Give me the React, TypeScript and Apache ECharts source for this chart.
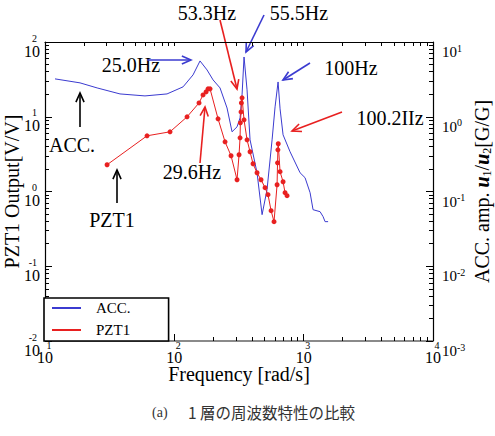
import React, { useEffect, useRef } from 'react';
import * as echarts from 'echarts';

// ACC. (right axis, amplitude ratio u1/u2 [G/G]) vs frequency [rad/s]
const accFreq = [11.95, 18.65, 25.3, 38.0, 59.3, 87.8, 116.8, 139.5, 158, 179, 199.3, 225.6, 255.6, 279.4, 305.4, 322.2, 333.9, 345.9, 365, 385, 436, 477, 521, 570, 601, 634, 657, 693, 785, 938, 1025, 1121, 1182, 1339, 1413, 1464, 1545];
const accAmp = [3.21, 2.84, 2.43, 2.02, 1.9, 2.02, 2.51, 3.63, 5.58, 4.23, 3.11, 2.43, 1.31, 0.629, 0.733, 0.967, 1.96, 6.3, 2.29, 0.491, 0.178, 0.049, 0.106, 0.491, 1.356, 2.92, 1.275, 0.573, 0.34, 0.178, 0.153, 0.0964, 0.0571, 0.0537, 0.0461, 0.0395, 0.0395];

// PZT1 (left axis, output [V/V]) vs frequency [rad/s]
const pztFreq = [30.2, 61.5, 92.6, 125.4, 155.2, 166.7, 175.9, 182.2, 188.9, 217.8, 246.7, 274.5, 305.4, 316.5, 322.2, 324, 328, 330, 333.9, 345.9, 365, 385, 406, 436, 468, 503, 530, 560, 590, 623, 628, 632, 636, 657, 693, 718, 744];
const pztAmp = [2.28, 5.56, 6.29, 9.97, 15.3, 19.6, 21.5, 23.6, 23.6, 9.38, 4.62, 3.01, 1.437, 3.1, 5.23, 8.29, 11.6, 15.3, 17.9, 9.09, 4.91, 3.4, 2.35, 1.78, 1.437, 1.124, 0.906, 0.554, 0.395, 1.23, 2.42, 3.61, 4.35, 1.84, 1.35, 0.964, 0.879];

const seriesNames = ['ACC.', 'PZT1'];
const xTitle = 'Frequency [rad/s]';
const yLeftTitle = 'PZT1 Output[V/V]';
const caption = ['(a)', '1 層の周波数特性の比較'];

const serif = "'Liberation Serif', 'DejaVu Serif', serif";
const BLUE = '#3b3bd0';
const RED = '#e82020';

function minors(loExp: number, hiExp: number): number[] {
  const out: number[] = [];
  for (let e = loExp; e < hiExp; e++) {
    for (let m = 2; m <= 9; m++) out.push(+(m * Math.pow(10, e)).toPrecision(3));
  }
  return out;
}
function majors(loExp: number, hiExp: number): number[] {
  const out: number[] = [];
  for (let e = loExp; e <= hiExp; e++) out.push(+Math.pow(10, e).toPrecision(3));
  return out;
}

function arrow(x1: number, y1: number, x2: number, y2: number, color: string) {
  const ang = Math.atan2(y2 - y1, x2 - x1);
  const L = 10, a = 0.42;
  const p1 = [x2 - L * Math.cos(ang - a), y2 - L * Math.sin(ang - a)];
  const p2 = [x2 - L * Math.cos(ang + a), y2 - L * Math.sin(ang + a)];
  return [
    { type: 'line', silent: true, shape: { x1, y1, x2, y2 }, style: { stroke: color, lineWidth: 1.6 } },
    { type: 'polyline', silent: true, shape: { points: [p1, [x2, y2], p2] }, style: { stroke: color, lineWidth: 1.6, fill: 'none' } },
  ];
}

function label(text: string, cx: number, cy: number, color = '#000', size = 20) {
  return {
    type: 'text', silent: true, x: cx, y: cy,
    style: { text, fill: color, font: `${size}px ${serif}`, align: 'center', verticalAlign: 'middle' },
  };
}

export default function App() {
  const ref = useRef<HTMLDivElement>(null);
  useEffect(() => {
    const chart = echarts.init(ref.current!, null, { renderer: 'svg' });
    const exp = (v: number) => Math.round(Math.log10(v));
    const tickCommon = { inside: true, lineStyle: { color: '#000', width: 1 } };

    const option: any = {
      animation: false,
      backgroundColor: '#fff',
      grid: { left: 45, right: 62, top: 42, bottom: 95, outerBoundsMode: 'none', containLabel: false },
      legend: {
        left: 44, top: 298, orient: 'vertical', icon: 'rect',
        itemWidth: 29, itemHeight: 2, itemGap: 4,
        borderColor: '#000', borderWidth: 1.6, backgroundColor: '#fff',
        padding: [1, 38, 2, 8],
        textStyle: { fontFamily: serif, fontSize: 15, color: '#000', lineHeight: 18, padding: [0, 0, 0, 10] },
        data: seriesNames,
      },
      xAxis: [
        {
          type: 'log', logBase: 10, min: 10, max: 10000, position: 'bottom',
          name: xTitle, nameLocation: 'middle', nameGap: 23, nameMoveOverlap: false,
          nameTextStyle: { fontFamily: serif, fontSize: 20, color: '#000', verticalAlign: 'top', lineHeight: 20 },
          axisLine: { show: true, onZero: false, lineStyle: { color: '#8a8a8a', width: 2 } },
          axisTick: { ...tickCommon, length: 7 },
          axisLabel: {
            margin: 0, color: '#000', fontFamily: serif, showMinLabel: true, showMaxLabel: true,
            formatter: (v: number) => `{s|${exp(v)}}\n{b|10}`,
            rich: {
              s: { fontFamily: serif, fontSize: 10, lineHeight: 9, padding: [0, 0, 0, 8] },
              b: { fontFamily: serif, fontSize: 16, lineHeight: 14 },
            },
          },
          splitLine: { show: false },
        },
        {
          type: 'log', logBase: 10, min: 10, max: 10000, position: 'bottom',
          axisLine: { show: false, onZero: false },
          axisTick: { ...tickCommon, length: 4, customValues: minors(1, 4) },
          axisLabel: { show: false },
          splitLine: { show: false },
        },
        {
          type: 'log', logBase: 10, min: 10, max: 10000, position: 'top',
          axisLine: { show: true, onZero: false, lineStyle: { color: '#000', width: 1.2 } },
          axisTick: { ...tickCommon, length: 4, customValues: [...majors(1, 4), ...minors(1, 4)] },
          axisLabel: { show: false },
          splitLine: { show: false },
        },
      ],
      yAxis: [
        {
          type: 'log', logBase: 10, min: 0.01, max: 100, position: 'left',
          name: yLeftTitle, nameLocation: 'middle', nameGap: 23, nameRotate: 90, nameMoveOverlap: false,
          nameTextStyle: { fontFamily: serif, fontSize: 20, color: '#000' },
          axisLine: { show: true, onZero: false, lineStyle: { color: '#000', width: 1.2 } },
          axisTick: { ...tickCommon, length: 7 },
          axisLabel: {
            margin: 5, color: '#000', showMinLabel: true, showMaxLabel: true, padding: [8, 0, 0, 0],
            formatter: (v: number) => `{s|${exp(v)}}\n{b|10}`,
            rich: {
              s: { fontFamily: serif, fontSize: 10, lineHeight: 10, padding: [0, 3, 0, 0] },
              b: { fontFamily: serif, fontSize: 16, lineHeight: 16 },
            },
          },
          splitLine: { show: false },
        },
        {
          type: 'log', logBase: 10, min: 0.001, max: 10, position: 'right',
          name: 'ACC. amp. {i|u}{d|1}/{i|u}{d|2}[G/G]', nameLocation: 'middle', nameGap: 38, nameRotate: 90, nameMoveOverlap: false,
          nameTextStyle: {
            fontFamily: serif, fontSize: 20, color: '#000',
            rich: {
              i: { fontFamily: serif, fontSize: 20, fontStyle: 'italic', fontWeight: 'bold', lineHeight: 22 },
              d: { fontFamily: serif, fontSize: 12, lineHeight: 12, verticalAlign: 'bottom' },
            },
          },
          axisLine: { show: true, onZero: false, lineStyle: { color: '#000', width: 1.2 } },
          axisTick: { ...tickCommon, length: 7 },
          axisLabel: {
            margin: 9, color: '#000', showMinLabel: true, showMaxLabel: true, padding: [20, 0, 0, 0],
            formatter: (v: number) => `{b|10}{s|${exp(v)}}`,
            rich: {
              b: { fontFamily: serif, fontSize: 15, lineHeight: 18 },
              s: { fontFamily: serif, fontSize: 10, lineHeight: 10, verticalAlign: 'top' },
            },
          },
          splitLine: { show: false },
        },
        {
          type: 'log', logBase: 10, min: 0.01, max: 100, position: 'left',
          axisLine: { show: false, onZero: false },
          axisTick: { ...tickCommon, length: 4, customValues: minors(-2, 2) },
          axisLabel: { show: false },
          splitLine: { show: false },
        },
        {
          type: 'log', logBase: 10, min: 0.001, max: 10, position: 'right',
          axisLine: { show: false, onZero: false },
          axisTick: { ...tickCommon, length: 4, customValues: minors(-3, 1) },
          axisLabel: { show: false },
          splitLine: { show: false },
        },
      ],
      series: [
        {
          name: seriesNames[0], type: 'line', xAxisIndex: 0, yAxisIndex: 1,
          data: accFreq.map((f, i) => [f, accAmp[i]]),
          showSymbol: false, symbol: 'none',
          lineStyle: { color: BLUE, width: 1 }, itemStyle: { color: BLUE },
        },
        {
          name: seriesNames[1], type: 'line', xAxisIndex: 0, yAxisIndex: 0,
          data: pztFreq.map((f, i) => [f, pztAmp[i]]),
          symbol: 'circle', symbolSize: 5,
          lineStyle: { color: RED, width: 1 }, itemStyle: { color: RED },
        },
      ],
      graphic: [
        label('53.3Hz', 207, 13),
        label('55.5Hz', 299, 13),
        label('25.0Hz', 131, 65),
        label('100Hz', 351, 68),
        label('100.2IIz', 390, 118),
        label('29.6Hz', 192, 172),
        label('ACC.', 72, 145),
        label('PZT1', 112, 220),
        ...arrow(220, 20, 237, 89, RED),
        ...arrow(264, 15, 246, 52, BLUE),
        ...arrow(147, 60, 191, 60, BLUE),
        ...arrow(310, 63, 283, 80, BLUE),
        ...arrow(342, 112, 292, 131, RED),
        ...arrow(200, 163, 205, 107, RED),
        ...arrow(80, 127, 80, 93, '#000'),
        ...arrow(117, 203, 117, 170, '#000'),
        {
          type: 'text', silent: true, x: 152, y: 412,
          style: { text: caption[0], fill: '#333', font: `14px ${serif}`, align: 'left', verticalAlign: 'middle' },
        },
        {
          type: 'text', silent: true, x: 188, y: 412,
          style: { text: caption[1], fill: '#333', font: `15.5px 'Noto Sans CJK JP', sans-serif`, align: 'left', verticalAlign: 'middle' },
        },
      ],
    };
    chart.setOption(option);
    return () => chart.dispose();
  }, []);
  return <div ref={ref} style={{ position: 'fixed', left: 0, top: 0, width: 495, height: 436, background: '#fff' }} />;
}
